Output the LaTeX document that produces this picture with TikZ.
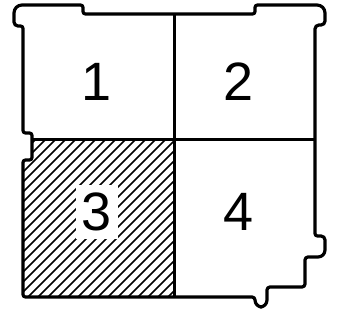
\documentclass[tikz,border=0pt]{standalone}
\usepackage{fontspec}
\setmainfont{Liberation Sans}
\usetikzlibrary{positioning}

\begin{document}
\begin{tikzpicture}[
  x=1pt, y=-1pt,
  wall/.style={draw, line width=3.2pt, line join=miter, rounded corners=2.5},
  partition/.style={draw, line width=3pt},
  hatchline/.style={draw, line width=1.6pt},
  roomno/.style={font=\fontsize{54}{60}\selectfont, inner sep=0pt},
  roomnobg/.style={roomno, fill=white, inner xsep=6pt, inner ysep=8pt}
]
\useasboundingbox (0,0) rectangle (345,323);

% hatched room, clipped to its outline
\begin{scope}
  \clip (32,140) -- (174,140) -- (174,297) -- (23,297) -- (23,160) -- (32,160) -- cycle;
  \foreach \i in {-150,-140,...,190}
    \draw[hatchline] (\i,305) -- ++(180,-180);
\end{scope}

% room numbers
\node[roomno] (r1) at (97,82) {1};
\node[roomno] (r2) at (239,82) {2};
\node[roomnobg] (r3) at (97,212) {3};
\node[roomno] (r4) at (239,212) {4};

% partitions
\coordinate (ptop) at (174,14);
\coordinate (pbot) at (174,297);
\coordinate (pleft) at (32,140);
\coordinate (pright) at (315,140);
\draw[partition] (ptop) -- (pbot);
\draw[partition] (pleft) -- (pright);

% outer wall
\draw[wall] (100,297) -- (23,297) -- (23,160) -- (32,160) -- (32,133) -- (23,133)
  -- (23,26) [rounded corners=4] -- (14,26) [rounded corners=8] -- (14,5)
  [rounded corners=2.5] -- (83,5) -- (83,14) -- (255,14) -- (255,5)
  [rounded corners=8] -- (325,5) [rounded corners=4] -- (325,25) -- (315,25)
  [rounded corners=2.5] -- (315,236) [rounded corners=4] -- (325,236)
  [rounded corners=7] -- (325,257) [rounded corners=3] -- (305,257)
  -- (305,287) -- (267,287) [rounded corners=7] -- (267,307) -- (255,307)
  [rounded corners=3] -- (255,297) -- cycle;
\end{tikzpicture}
\end{document}
